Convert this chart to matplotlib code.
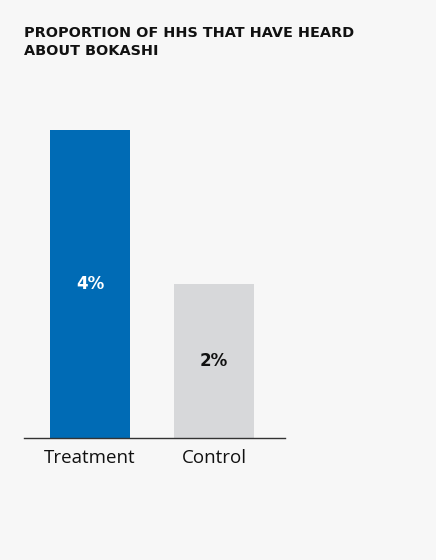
import matplotlib.pyplot as plt

categories = ["Treatment", "Control"]
values = [4, 2]
value_labels = ["4%", "2%"]
bar_colors = ["#006bb5", "#d7d8da"]
text_colors = ["white", "#111111"]

title = "PROPORTION OF HHS THAT HAVE HEARD\nABOUT BOKASHI"


def main():
    fig = plt.figure(figsize=(4.36, 5.6), dpi=100, facecolor="#f7f7f7")
    ax = fig.add_axes([24 / 436, 122 / 560, 261 / 436, 308 / 560])
    ax.set_facecolor("#f7f7f7")

    x = range(len(categories))
    ax.bar(x, values, width=80 / 124, color=bar_colors)
    ax.set_xlim(-66 / 124, 1 + 71 / 124)
    ax.set_ylim(0, 4)

    for i, v in enumerate(values):
        ax.text(i, v / 2, value_labels[i], ha="center", va="center",
                color=text_colors[i], fontsize=12, fontweight="bold",
                family="DejaVu Sans")

    for s in ["top", "right", "left"]:
        ax.spines[s].set_visible(False)
    ax.spines["bottom"].set_color("#333333")
    ax.spines["bottom"].set_linewidth(1)
    ax.set_yticks([])
    ax.set_xticks(list(x))
    ax.set_xticklabels(categories, fontsize=13.5, color="#111111", family="Open Sans")
    ax.tick_params(axis="x", length=0, pad=8)

    fig.text(24 / 436, 1 - 26 / 560, title, ha="left", va="top",
             fontsize=10.4, fontweight="bold", color="#111111",
             family="DejaVu Sans", linespacing=1.35)

    fig.savefig("out.png", dpi=100, facecolor=fig.get_facecolor())


if __name__ == "__main__":
    main()
